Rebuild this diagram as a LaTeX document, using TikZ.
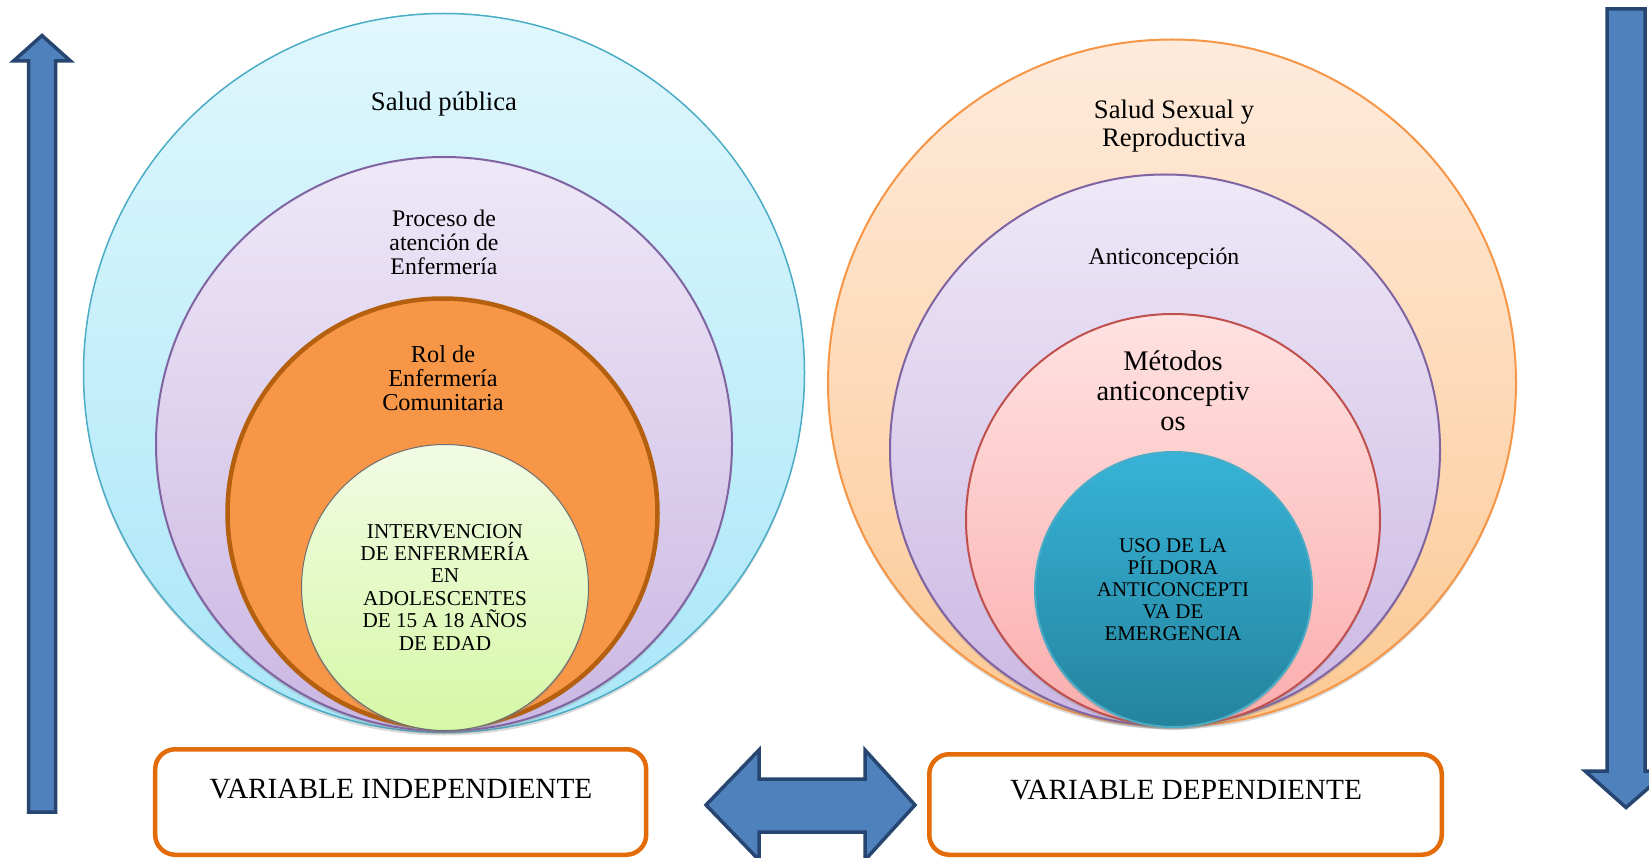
\documentclass[tikz,border=0pt]{standalone}
\usepackage{fontspec}
\setmainfont{Liberation Serif}
\usetikzlibrary{shapes.geometric,shadows}
\newcommand{\fsz}[2]{\fontsize{#1}{#2}\selectfont}
\definecolor{cyanTop}{HTML}{E0F7FD}
\definecolor{cyanBot}{HTML}{A9E6F8}
\definecolor{cyanLine}{HTML}{4BACC6}
\definecolor{purpTop}{HTML}{EEE8F7}
\definecolor{purpBot}{HTML}{CBB7E3}
\definecolor{purpLine}{HTML}{8064A2}
\definecolor{orangeFill}{HTML}{F79646}
\definecolor{orangeLine}{HTML}{B4600F}
\definecolor{greenTop}{HTML}{F2FBE4}
\definecolor{greenBot}{HTML}{D6F8A6}
\definecolor{greenLine}{HTML}{6E6E6E}
\definecolor{peachTop}{HTML}{FEEBDC}
\definecolor{peachBot}{HTML}{FCC994}
\definecolor{peachLine}{HTML}{F79646}
\definecolor{pinkTop}{HTML}{FFE2E2}
\definecolor{pinkBot}{HTML}{FBADAD}
\definecolor{pinkLine}{HTML}{C0504D}
\definecolor{tealTop}{HTML}{37B3D7}
\definecolor{tealBot}{HTML}{24839D}
\definecolor{tealLine}{HTML}{4BACC6}
\definecolor{arrowFill}{HTML}{4F81BD}
\definecolor{arrowLine}{HTML}{264570}
\definecolor{boxLine}{HTML}{E36C09}
\begin{document}
\begin{tikzpicture}[x=1pt,y=-1pt,
  ring/.style={ellipse, inner sep=0pt,
    drop shadow={shadow xshift=0pt, shadow yshift=-3pt, opacity=0.3}},
  lbl/.style={align=center, anchor=base, inner sep=0pt, text=black},
  blockarrow/.style={fill=arrowFill, draw=arrowLine, line width=3.5pt, line join=miter},
  varbox/.style={draw=boxLine, line width=4.5pt, rounded corners=20pt, fill=white, inner sep=0pt}]
\useasboundingbox (0,0) rectangle (1649,858);
\clip (0,0) rectangle (1649,858);

% left group
\node[ring, draw=cyanLine, line width=1.5pt, top color=cyanTop, bottom color=cyanBot,
  minimum width=721pt, minimum height=719pt] (sp) at (444,373) {};
\node[ring, draw=purpLine, line width=2pt, top color=purpTop, bottom color=purpBot,
  minimum width=576pt, minimum height=574pt] (pae) at (444,444) {};
\node[ring, draw=orangeLine, line width=4.5pt, fill=orangeFill,
  minimum width=430pt, minimum height=429pt] (rol) at (442.5,513) {};
\node[ring, draw=greenLine, line width=1pt, top color=greenTop, bottom color=greenBot,
  minimum width=287pt, minimum height=286pt] (int) at (445,587.5) {};

% right group
\node[ring, draw=peachLine, line width=2pt, top color=peachTop, bottom color=peachBot,
  minimum width=688pt, minimum height=687pt] (ssr) at (1172,383) {};
\node[ring, draw=purpLine, line width=2pt, top color=purpTop, bottom color=purpBot,
  minimum width=550pt, minimum height=551pt] (anti) at (1165,450) {};
\node[ring, draw=pinkLine, line width=2pt, top color=pinkTop, bottom color=pinkBot,
  minimum width=414pt, minimum height=412pt] (met) at (1173,520) {};
\node[ring, draw=tealLine, line width=2pt, top color=tealTop, bottom color=tealBot,
  minimum width=277pt, minimum height=275pt] (uso) at (1173.5,589.5) {};

% texts (anchor base = baseline of the last line)
\node[lbl, font=\fsz{26.7}{27}] (tsp) at (444,111) {Salud pública};
\node[lbl, font=\fsz{23.8}{24}] (tpae) at (444,275) {Proceso de\\atención de\\Enfermería};
\node[lbl, font=\fsz{24.3}{24}] (trol) at (443,410) {Rol de\\Enfermería\\Comunitaria};
\node[lbl, font=\fsz{21.2}{22.4}] (tint) at (445,650) {INTERVENCION\\DE ENFERMERÍA\\EN\\ADOLESCENTES\\DE 15 A 18 AÑOS\\DE EDAD};
\node[lbl, font=\fsz{26.7}{27.5}] (tssr) at (1174,146.5) {Salud Sexual y\\Reproductiva};
\node[lbl, font=\fsz{23.8}{24}] (tanti) at (1164,265) {Anticoncepción};
\node[lbl, font=\fsz{28.4}{30}] (tmet) at (1173,430) {Métodos\\anticonceptiv\\os};
\node[lbl, font=\fsz{20.9}{22}] (tuso) at (1173,640) {USO DE LA\\PÍLDORA\\ANTICONCEPTI\\VA DE\\EMERGENCIA};

% variable boxes
\node[varbox, minimum width=491pt, minimum height=105.5pt] (vi) at (400.7,802) {};
\node[varbox, minimum width=512.5pt, minimum height=100.5pt] (vd) at (1185.5,804.5) {};
\node[lbl, font=\fsz{29.3}{30}] (tvi) at (401,798) {VARIABLE INDEPENDIENTE};
\node[lbl, font=\fsz{29.3}{30}] (tvd) at (1186,799) {VARIABLE DEPENDIENTE};

% block arrows
\draw[blockarrow] (42,35.5) -- (70.5,61) -- (55.5,61) -- (55.5,812) -- (28.5,812)
  -- (28.5,61) -- (13.5,61) -- cycle;
\draw[blockarrow] (1607,9) -- (1645,9) -- (1645,771) -- (1668,771) -- (1626,807.5)
  -- (1585,771) -- (1607,771) -- cycle;
\draw[blockarrow] (706,805) -- (759,750) -- (759,779) -- (865,779) -- (865,750)
  -- (915,805) -- (865,860) -- (865,832) -- (759,832) -- (759,860) -- cycle;
\end{tikzpicture}
\end{document}
